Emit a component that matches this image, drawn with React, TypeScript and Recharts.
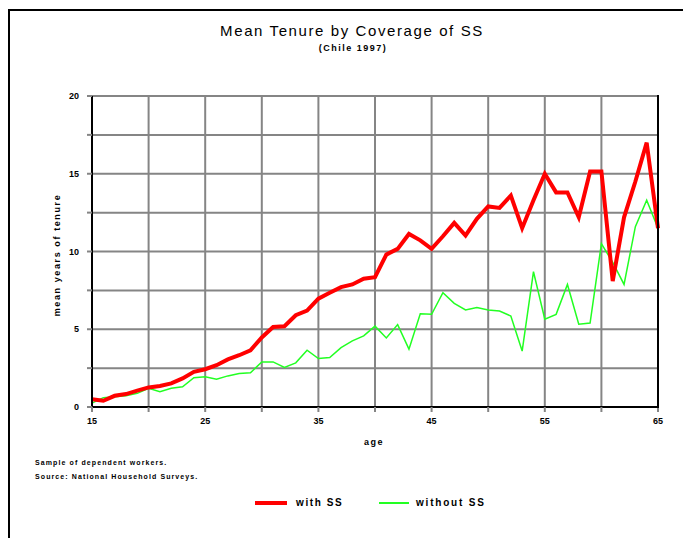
import { CartesianGrid, Line, LineChart, XAxis, YAxis } from "recharts";

const AGES = [
  15, 16, 17, 18, 19, 20, 21, 22, 23, 24, 25, 26, 27, 28, 29, 30, 31, 32, 33,
  34, 35, 36, 37, 38, 39, 40, 41, 42, 43, 44, 45, 46, 47, 48, 49, 50, 51, 52,
  53, 54, 55, 56, 57, 58, 59, 60, 61, 62, 63, 64, 65,
];

const WITH_SS = [
  0.5, 0.4, 0.72, 0.83, 1.05, 1.26, 1.35, 1.52, 1.84, 2.26, 2.43, 2.69, 3.06,
  3.33, 3.65, 4.47, 5.15, 5.19, 5.9, 6.2, 6.97, 7.35, 7.71, 7.88, 8.25, 8.35,
  9.8, 10.17, 11.13, 10.72, 10.17, 10.98, 11.84, 11.03, 12.1, 12.9, 12.8, 13.6,
  11.5, 13.3, 15.0, 13.8, 13.8, 12.2, 15.15, 15.15, 8.1, 12.2, 14.5, 17.0, 11.5,
];

const WITHOUT_SS = [
  0.25, 0.6, 0.66, 0.72, 0.88, 1.2, 0.98, 1.2, 1.3, 1.88, 1.94, 1.79, 2.0,
  2.16, 2.2, 2.9, 2.9, 2.54, 2.84, 3.65, 3.12, 3.18, 3.82, 4.25, 4.57, 5.2,
  4.44, 5.3, 3.72, 6.0, 5.96, 7.35, 6.67, 6.24, 6.39, 6.24, 6.17, 5.85, 3.6,
  8.7, 5.64, 5.96, 7.88, 5.32, 5.4, 10.5, 9.3, 7.88, 11.6, 13.3, 11.5,
];

const X_TICKS = [15, 20, 25, 30, 35, 40, 45, 50, 55, 60, 65];
const Y_TICKS = [0, 2.5, 5, 7.5, 10, 12.5, 15, 17.5, 20];

const rows = AGES.map((age, i) => ({
  age,
  withSS: WITH_SS[i],
  withoutSS: WITHOUT_SS[i],
}));

const FONT = "'Liberation Sans', Arial, sans-serif";
const tickStyle = { fontSize: 9, fontWeight: 700, fill: "#000", fontFamily: FONT };

export default function App() {
  return (
    <div
      style={{
        position: "fixed",
        left: 0,
        top: 0,
        width: 683,
        height: 538,
        background: "#fff",
        fontFamily: FONT,
        overflow: "hidden",
      }}
    >
      {/* frame */}
      <div
        style={{
          position: "absolute",
          left: 8,
          top: 9,
          right: -4,
          bottom: -4,
          borderTop: "2px solid #000",
          borderLeft: "2px solid #000",
        }}
      />

      <LineChart
        data={rows}
        height={538}
        margin={{ top: 96, right: 25, bottom: 111, left: 0 }}
        style={{ position: "absolute", left: 0, top: 0 }}
        width={683}
      >
        <CartesianGrid
          horizontalValues={Y_TICKS}
          stroke="#858585"
          strokeWidth={2}
          verticalValues={X_TICKS}
        />
        <XAxis
          axisLine={{ stroke: "#000", strokeWidth: 2 }}
          dataKey="age"
          domain={[15, 65]}
          height={20}
          tick={tickStyle}
          tickFormatter={(v: number) => ((v - 15) % 10 === 0 ? String(v) : "")}
          tickLine={{ stroke: "#858585", strokeWidth: 2 }}
          tickMargin={6}
          tickSize={5}
          ticks={X_TICKS}
          type="number"
        />
        <YAxis
          axisLine={{ stroke: "#000", strokeWidth: 2 }}
          domain={[0, 20]}
          tick={tickStyle}
          tickFormatter={(v: number) => (v % 5 === 0 ? String(v) : "")}
          tickLine={{ stroke: "#858585", strokeWidth: 2 }}
          tickMargin={8}
          tickSize={5}
          ticks={Y_TICKS}
          type="number"
          width={92}
        />
        <Line
          dataKey="withoutSS"
          dot={false}
          isAnimationActive={false}
          stroke="#22ff22"
          strokeWidth={1.5}
          type="linear"
        />
        <Line
          dataKey="withSS"
          dot={false}
          isAnimationActive={false}
          stroke="#ff0000"
          strokeWidth={4}
          type="linear"
        />
      </LineChart>

      {/* right edge of plot */}
      <div
        style={{
          position: "absolute",
          left: 657,
          top: 95,
          width: 2,
          height: 313,
          background: "#000",
        }}
      />

      <div
        style={{
          position: "absolute",
          left: 0,
          width: 704,
          top: 22,
          textAlign: "center",
          fontSize: 15,
          letterSpacing: 1.6,
          color: "#000",
        }}
      >
        Mean Tenure by Coverage of SS
      </div>
      <div
        style={{
          position: "absolute",
          left: 0,
          width: 706,
          top: 43,
          textAlign: "center",
          fontSize: 9,
          fontWeight: 700,
          letterSpacing: 1.5,
        }}
      >
        (Chile 1997)
      </div>

      <div
        style={{
          position: "absolute",
          left: 57,
          top: 255,
          transform: "translate(-50%, -50%) rotate(-90deg)",
          fontSize: 9,
          fontWeight: 700,
          letterSpacing: 1.6,
          whiteSpace: "nowrap",
        }}
      >
        mean years of tenure
      </div>

      <div
        style={{
          position: "absolute",
          left: 364,
          top: 437,
          fontSize: 9,
          fontWeight: 700,
          letterSpacing: 1.5,
        }}
      >
        age
      </div>

      <div
        style={{
          position: "absolute",
          left: 35,
          top: 456,
          fontSize: 7,
          fontWeight: 700,
          letterSpacing: 1.1,
          lineHeight: "14px",
          whiteSpace: "nowrap",
        }}
      >
        <div>Sample of dependent workers.</div>
        <div>Source: National Household Surveys.</div>
      </div>

      {/* legend */}
      <div
        style={{
          position: "absolute",
          left: 255,
          top: 501,
          width: 32,
          height: 4,
          background: "#ff0000",
        }}
      />
      <div
        style={{
          position: "absolute",
          left: 296,
          top: 497,
          fontSize: 10,
          fontWeight: 700,
          letterSpacing: 1.6,
          whiteSpace: "nowrap",
        }}
      >
        with SS
      </div>
      <div
        style={{
          position: "absolute",
          left: 379,
          top: 502,
          width: 30,
          height: 2,
          background: "#22ff22",
        }}
      />
      <div
        style={{
          position: "absolute",
          left: 416,
          top: 497,
          fontSize: 10,
          fontWeight: 700,
          letterSpacing: 1.8,
          whiteSpace: "nowrap",
        }}
      >
        without SS
      </div>
    </div>
  );
}
